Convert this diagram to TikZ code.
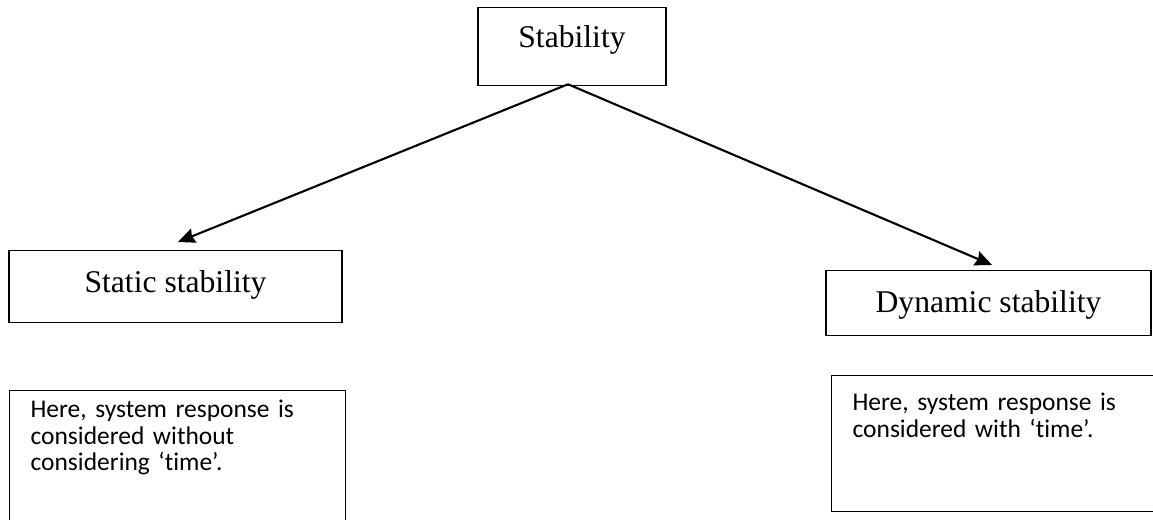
\documentclass[tikz,border=0pt]{standalone}
\usepackage{fontspec}
\setmainfont{Liberation Serif}
\newfontfamily\notefont[Ligatures={NoCommon,NoDiscretionary,NoRare}]{Carlito}
\usetikzlibrary{positioning,arrows.meta}

\begin{document}
\begin{tikzpicture}[
    box/.style={draw, line width=0.7pt, inner sep=0pt, anchor=north, font=\fontsize{18}{20}\selectfont},
    note/.style={draw, line width=0.7pt, anchor=north west, inner xsep=0.42cm, inner ysep=0pt, align=left, font=\notefont\fontsize{14.5}{15.1}\selectfont},
    arr/.style={-{Stealth[length=3.4mm, width=3mm, inset=0.4mm]}, line width=1.2pt},
]
    \useasboundingbox (0,0) rectangle (23.06,-10.38);

    % === TOP ===
    \node[box, minimum width=3.76cm, text height=0.8cm, text depth=0.76cm] (stab) at (11.44,-0.14) {Stability};
    \coordinate (split) at ([xshift=-0.08cm, yshift=0.04cm]stab.south);

    % === KINDS ===
    \node[box, minimum width=6.66cm, text height=0.84cm, text depth=0.6cm] (static) at (3.51,-5.0) {Static stability};
    \node[box, minimum width=6.5cm, text height=0.84cm, text depth=0.46cm] (dynamic) at (19.77,-5.4) {Dynamic stability};

    % === NOTES ===
    \node[note, text width=5.88cm, text height=0.54cm, text depth=3cm] (staticnote) at (0.18,-7.8)
        {Here, system response is\\considered without\\considering ‘time’.};
    \node[note, text width=6.5cm, text height=0.7cm, text depth=2.02cm] (dynnote) at (16.62,-7.5)
        {Here, system response is\\considered with ‘time’.};

    % === ARROWS ===
    \draw[arr] (split) -- ([xshift=0.05cm, yshift=0.16cm]static.north);
    \draw[arr] (split) -- ([xshift=0.07cm, yshift=0.1cm]dynamic.north);
\end{tikzpicture}
\end{document}
